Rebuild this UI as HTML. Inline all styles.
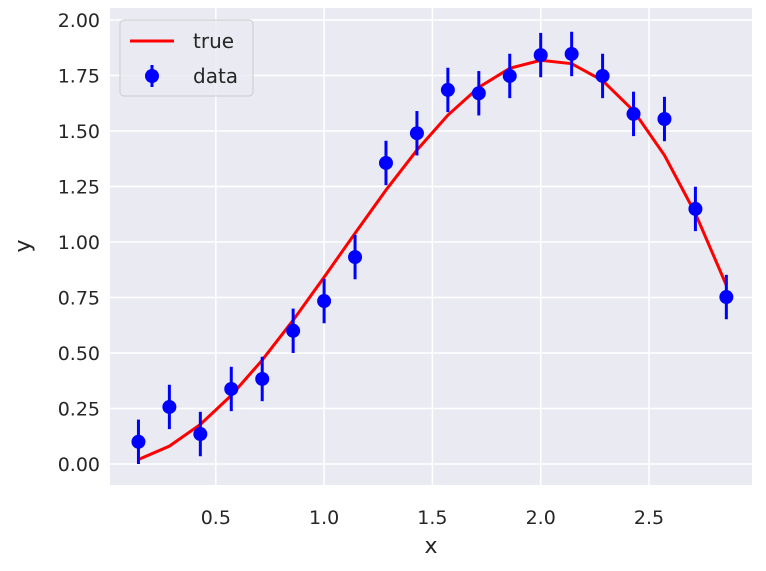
<!DOCTYPE html>
<html><head><meta charset="utf-8"><style>
body{margin:0;background:#fff;}
svg text{font-family:"DejaVu Sans","Liberation Sans",sans-serif;fill:#262626;}
</style></head><body>
<svg id="chart" width="766" height="566" xmlns="http://www.w3.org/2000/svg">
<rect x="110" y="8" width="642" height="477" fill="#eaeaf2"/>
<g id="grid"></g><g id="ticks"></g><g id="marks"></g>
<text x="431" y="553" font-size="22" text-anchor="middle">x</text>
<text x="30" y="246" font-size="22" text-anchor="middle" transform="rotate(-90 30 246)">y</text>
<g>
<rect x="120" y="20" width="133" height="76" rx="4" fill="#eaeaf2" fill-opacity="0.8" stroke="#ccc"/>
<line x1="130" y1="41" x2="174" y2="41" stroke="red" stroke-width="3"/>
<text x="193" y="48" font-size="20">true</text>
<line x1="152" y1="65" x2="152" y2="87" stroke="blue" stroke-width="3"/>
<circle cx="152" cy="76" r="7" fill="blue"/>
<text x="193" y="83" font-size="20">data</text>
</g>
</svg>
<script>
const xs=[0.1429,0.2857,0.4286,0.5714,0.7143,0.8571,1.0,1.1429,1.2857,1.4286,1.5714,1.7143,1.8571,2.0,2.1429,2.2857,2.4286,2.5714,2.7143,2.8571];
const yTrue=[0.0203,0.0805,0.1781,0.3090,0.4680,0.6477,0.8415,1.0396,1.2339,1.4140,1.5714,1.6968,1.7823,1.8186,1.8032,1.7273,1.5910,1.3906,1.1281,0.8052];
const yData=[0.10,0.257,0.135,0.338,0.383,0.60,0.734,0.932,1.356,1.49,1.685,1.67,1.748,1.842,1.847,1.748,1.577,1.554,1.149,0.752];
const yErr=[0.1,0.1,0.1,0.1,0.1,0.1,0.1,0.1,0.1,0.1,0.1,0.1,0.1,0.1,0.1,0.1,0.1,0.1,0.1,0.1];
const xTicks=[0.5,1.0,1.5,2.0,2.5];
const yTicks=[0,0.25,0.5,0.75,1.0,1.25,1.5,1.75,2.0];
const X=v=>107.5+v*216.6, Y=v=>464-v*222;
const NS="http://www.w3.org/2000/svg";
function mk(t,a,p){const e=document.createElementNS(NS,t);for(const k in a)e.setAttribute(k,a[k]);document.getElementById(p).appendChild(e);return e;}
xTicks.forEach(t=>{
 const l=mk('line',{x1:X(t),x2:X(t),y1:8,y2:485,stroke:'#fff','stroke-width':1.5},'grid');
 
 
 const s=mk('text',{x:X(t),y:524,'font-size':19,'text-anchor':'middle'},'ticks');s.textContent=t.toFixed(1);
 
 
});
yTicks.forEach(t=>{
 const l=mk('line',{x1:110,x2:752,y1:Y(t),y2:Y(t),stroke:'#fff','stroke-width':1.5},'grid');
 
 
 const s=mk('text',{x:100,y:Y(t)+7,'font-size':19,'text-anchor':'end'},'ticks');s.textContent=t.toFixed(2);
 
 
});
const p=mk('polyline',{points:xs.map((x,i)=>X(x)+','+Y(yTrue[i])).join(' '),fill:'none',stroke:'red','stroke-width':3},'marks');


xs.forEach((x,i)=>{
 const e=mk('line',{x1:X(x),x2:X(x),y1:Y(yData[i]-yErr[i]),y2:Y(yData[i]+yErr[i]),stroke:'blue','stroke-width':3},'marks');
 
 
 const c=mk('circle',{cx:X(x),cy:Y(yData[i]),r:7,fill:'blue'},'marks');
 
 
});
</script>
</body></html>
